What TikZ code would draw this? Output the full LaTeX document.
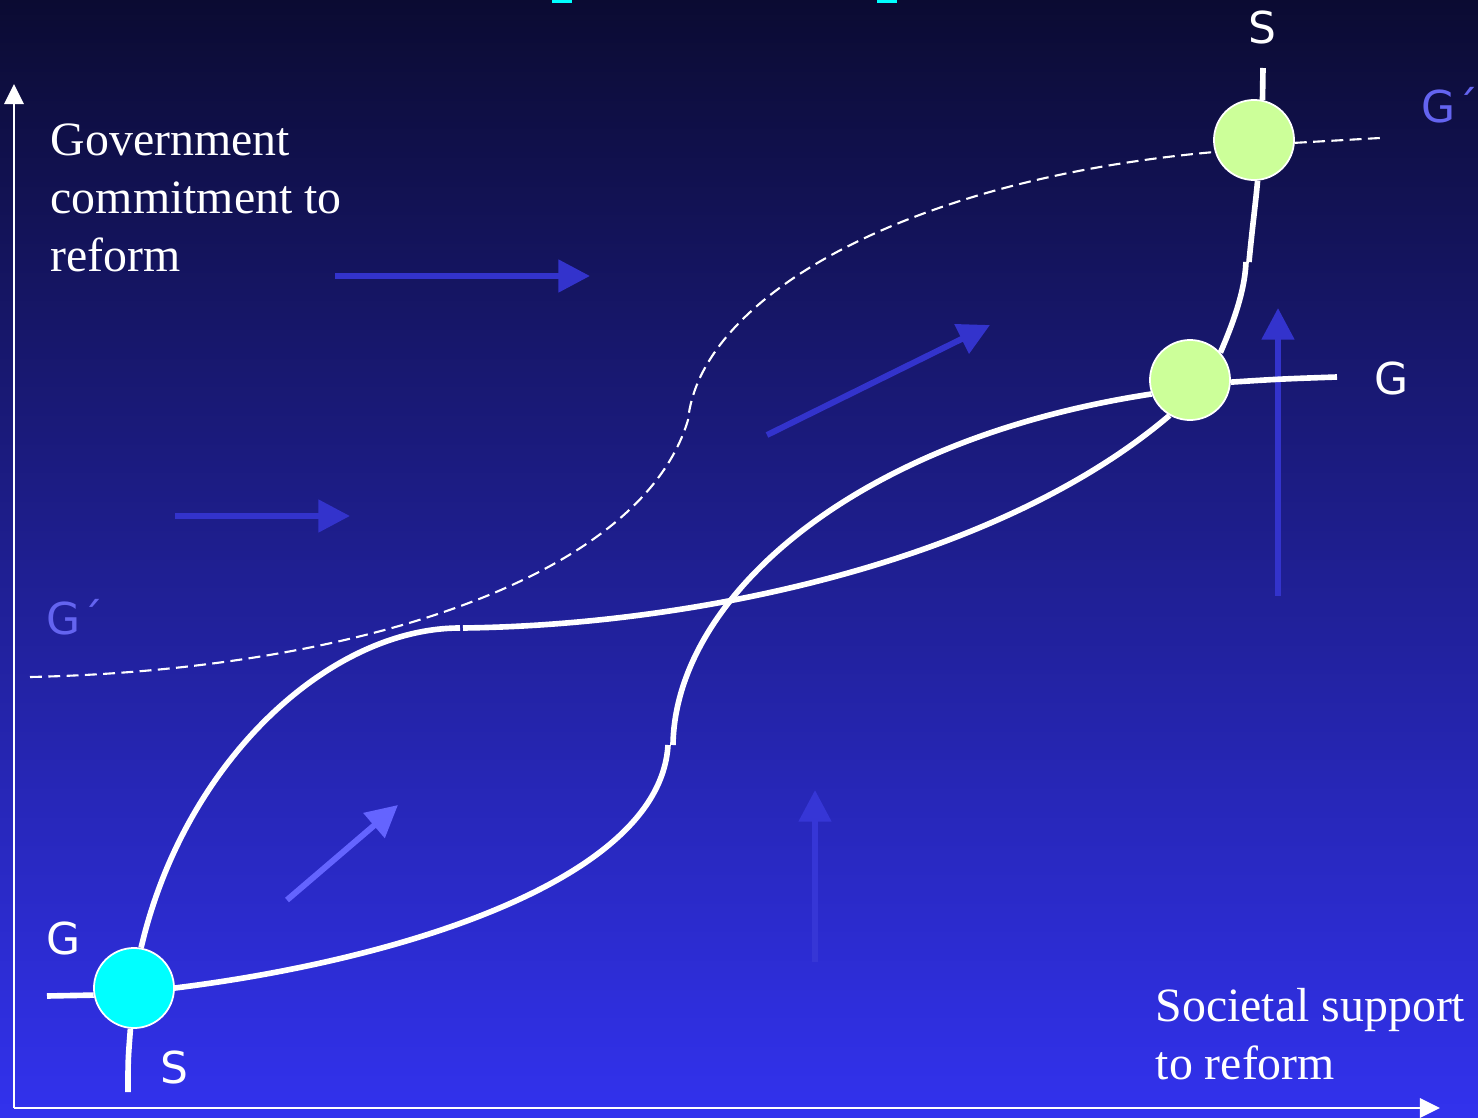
\documentclass[tikz,border=0pt]{standalone}
\usepackage{fontspec}
\setmainfont{Liberation Serif}
\newfontfamily\lblfont{DejaVu Sans}
\usetikzlibrary{arrows.meta}
\definecolor{bgtop}{RGB}{11,11,50}
\definecolor{bgmid}{RGB}{36,36,180}
\definecolor{bgbot}{RGB}{50,50,238}
\definecolor{eqcyan}{RGB}{0,255,255}
\definecolor{eqgreen}{RGB}{204,255,153}
\definecolor{gprime}{RGB}{100,100,240}
\definecolor{flowblue}{RGB}{51,51,204}
\definecolor{flowlight}{RGB}{100,100,255}
\definecolor{flowfaint}{RGB}{54,54,214}
\tikzset{
  curve/.style={white,line width=1.6pt},
  shifted/.style={white,line width=0.6pt,dash pattern=on 3.4pt off 1.8pt},
  eq/.style={circle,draw=white,line width=0.5pt,minimum size=0.8cm,inner sep=0pt},
  flow/.style={line width=1.7pt,-{Triangle[length=9pt,width=9pt]}},
  axis/.style={white,line width=0.6pt,-{Triangle[length=5.7pt,width=5.5pt]}},
  lbl/.style={white,inner sep=0pt,font=\lblfont\fontsize{12.5}{15}\selectfont},
  axislbl/.style={white,align=left,inner sep=0pt,anchor=north west,font=\fontsize{13.6}{16.5}\selectfont}
}
\begin{document}
\begin{tikzpicture}[x=0.01cm,y=-0.01cm]
\useasboundingbox (0,0) rectangle (1478,1118);
\shade[top color=bgtop,middle color=bgmid,bottom color=bgbot] (0,0) rectangle (1478,1118);
\fill[eqcyan] (552,0) rectangle (572,3);
\fill[eqcyan] (877,0) rectangle (897,3);

\coordinate (origin) at (14,1108);
\coordinate (yend) at (14,84);
\coordinate (xend) at (1440,1108);
\draw[axis] (origin) -- (yend);
\draw[axis] (origin) -- (xend);

\draw[flow,flowblue] (335,276) -- (590,276);
\draw[flow,flowblue] (175,516) -- (350,516);
\draw[flow,flowblue] (767,435) -- (990,325);
\draw[flow,flowblue] (1278,596) -- (1278,308);
\draw[flow,flowlight] (287,900) -- (398,805);
\draw[flow,flowfaint] (815,962) -- (815,790);

\node[eq,fill=eqcyan] (low) at (134,988) {};
\node[eq,fill=eqgreen] (mid) at (1190,380) {};
\node[eq,fill=eqgreen] (top) at (1254,140) {};

\coordinate (sBot) at (128,1092);
\coordinate (sFlat) at (460,628);
\coordinate (sFlat2) at (463,628);
\coordinate (sKnee) at (1246,262);
\coordinate (sKnee2) at (1249,262);
\coordinate (sTop) at (1263,68);
\draw[curve] (sBot) .. controls (128,1060) .. (low.265);
\draw[curve] (low.80) .. controls (185,760) and (330,628) .. (sFlat);
\draw[curve] (sFlat2) .. controls (700,625) and (1000,560) .. (mid.240);
\draw[curve] (mid.42) .. controls (1238,312) and (1245,285) .. (sKnee);
\draw[curve] (sKnee2) .. controls (1252,230) and (1256,200) .. (top.275);
\draw[curve] (top.78) -- (sTop);

\coordinate (gStart) at (47,996);
\coordinate (gStep) at (668,745);
\coordinate (gStep2) at (673,745);
\coordinate (gEnd) at (1337,377);
\draw[curve] (gStart) -- (low.190);
\draw[curve] (low.east) .. controls (400,960) and (660,880) .. (gStep);
\draw[curve] (gStep2) .. controls (675,600) and (850,440) .. (mid.200);
\draw[curve] (mid.-3) .. controls (1280,379) .. (gEnd);

\coordinate (gpStart) at (30,677);
\coordinate (gpKink) at (688,420);
\coordinate (gpEnd) at (1380,138);
\draw[shifted] (gpStart) .. controls (350,670) and (640,580) .. (gpKink)
  .. controls (700,300) and (900,180) .. (top.197);
\draw[shifted] (top.356) -- (gpEnd);

\node[axislbl] (govlbl) at (50,123) {Government\\commitment to\\reform};
\node[axislbl] (soclbl) at (1155,988) {Societal support\\to reform};

\node[lbl] (sTopLbl) at (1262,27) {S};
\node[lbl,text=gprime] (gpRightLbl) at (1450,105) {G´};
\node[lbl] (gRightLbl) at (1392,378) {G};
\node[lbl,text=gprime] (gpLeftLbl) at (75,617) {G´};
\node[lbl] (gLeftLbl) at (64,938) {G};
\node[lbl] (sBotLbl) at (174,1067) {S};
\end{tikzpicture}
\end{document}
